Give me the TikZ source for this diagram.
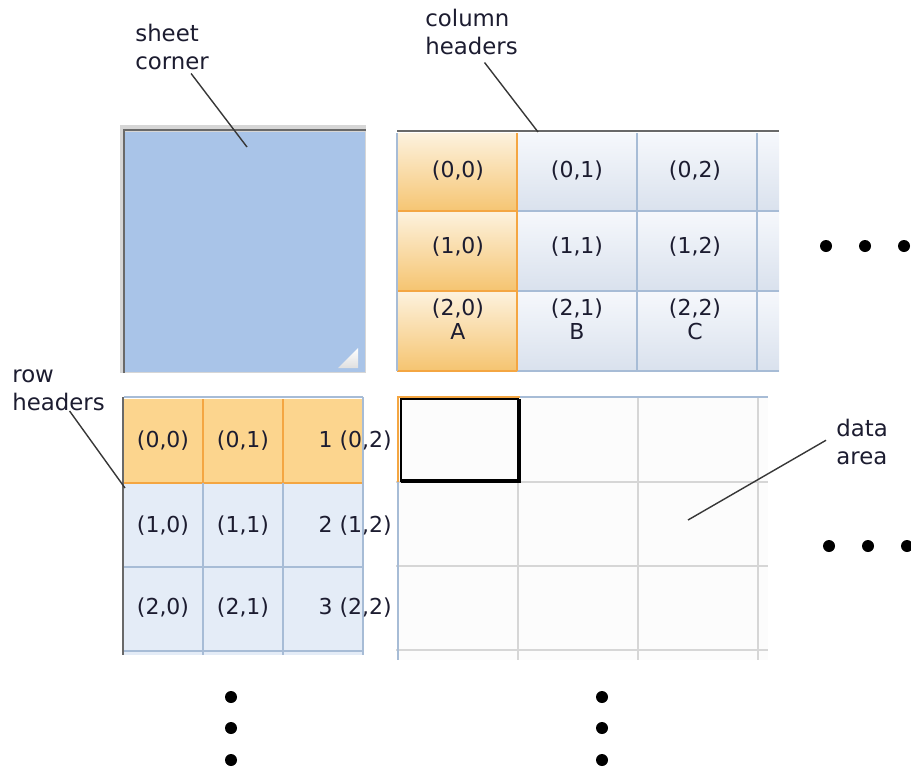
\documentclass[tikz,border=0pt]{standalone}
\usepackage{fontspec}
\setmainfont{DejaVu Sans}
\usetikzlibrary{positioning, calc}
\definecolor{txtcol}{RGB}{28, 28, 48}
\definecolor{leadcol}{RGB}{55, 55, 55}
\definecolor{cornerblue}{RGB}{169, 196, 232}
\definecolor{framegray}{RGB}{105, 105, 105}
\definecolor{shadowgray}{RGB}{214, 214, 214}
\definecolor{orangetop}{RGB}{253, 242, 222}
\definecolor{orangebot}{RGB}{245, 196, 112}
\definecolor{orangeline}{RGB}{244, 166, 66}
\definecolor{orangeflat}{RGB}{252, 213, 142}
\definecolor{bluetop}{RGB}{246, 248, 252}
\definecolor{bluebot}{RGB}{217, 225, 237}
\definecolor{blueflat}{RGB}{228, 236, 247}
\definecolor{blueline}{RGB}{167, 188, 214}
\definecolor{gridgray}{RGB}{214, 214, 214}
\definecolor{datafill}{RGB}{252, 252, 252}

\begin{document}
\begin{tikzpicture}[x=0.02cm, y=-0.02cm,
  lbl/.style={font=\fontsize{13}{16}\selectfont, text=txtcol, align=left, inner sep=0pt, anchor=north west},
  celltxt/.style={font=\fontsize{12.5}{13.6}\selectfont, text=txtcol, align=center, inner sep=0pt},
  leader/.style={draw=leadcol, line width=0.8pt},
  frame/.style={draw=framegray, line width=1.7pt},
  hline/.style={draw=blueline, line width=0.9pt},
  oline/.style={draw=orangeline, line width=0.9pt},
  gline/.style={draw=gridgray, line width=0.9pt},
  dot/.style={circle, fill=black, inner sep=0pt, minimum size=0.24cm}]
\useasboundingbox (0,0) rectangle (911,768);

% sheet corner
\fill[shadowgray] (120,125) rectangle (366,373);
\fill[cornerblue] (125,132) rectangle (365,372);
\draw[frame] (124,373) -- (124,130) -- (366,130);
\shade[top color=white, bottom color=gray!25] (358,348) -- (358,368) -- (338,368) -- cycle;

% column headers
\foreach \y in {133,211,291}{
  \shade[top color=orangetop, bottom color=orangebot] (397,\y) rectangle (517,\y+80);
  \foreach \x/\w in {517/120,637/120,757/22}
    \shade[top color=bluetop, bottom color=bluebot] (\x,\y) rectangle (\x+\w,\y+80);
}
\foreach \y in {211,291,371}{
  \draw[oline] (397,\y) -- (517,\y);
  \draw[hline] (517,\y) -- (779,\y);
}
\draw[hline] (397,133) -- (397,371);
\foreach \x in {637,757}
  \draw[hline] (\x,133) -- (\x,371);
\draw[oline] (517,133) -- (517,371);
\draw[frame] (397,131) -- (779,131);

\foreach \c/\x/\l in {0/458/A,1/577/B,2/695/C}{
  \node[celltxt] (col-0-\c) at (\x,171) {(0,\c)};
  \node[celltxt] (col-1-\c) at (\x,247) {(1,\c)};
  \node[celltxt] (col-2-\c) at (\x,319) {(2,\c)\\\l};
}

% row headers
\fill[orangeflat] (124,399) rectangle (363,483);
\fill[blueflat] (124,483) rectangle (363,655);
\draw[hline] (124,397) -- (363,397);
\draw[oline] (124,483) -- (363,483);
\foreach \y in {567,651}
  \draw[hline] (124,\y) -- (363,\y);
\foreach \x in {203,283}{
  \draw[oline] (\x,399) -- (\x,483);
  \draw[hline] (\x,483) -- (\x,655);
}
\draw[hline] (363,397) -- (363,655);
\draw[frame] (123,397) -- (123,655);

\foreach \r/\y/\n in {0/441/1,1/526/2,2/608/3}{
  \node[celltxt] (row-\r-0) at (163,\y) {(\r,0)};
  \node[celltxt] (row-\r-1) at (243,\y) {(\r,1)};
  \node[celltxt, anchor=east] (row-\r-2) at (392,\y) {\n\ (\r,2)};
}

% data area
\fill[datafill] (398,397) rectangle (768,660);
\foreach \x in {518,638,758}
  \draw[gline] (\x,397) -- (\x,660);
\foreach \y in {482,566,650}
  \draw[gline] (396,\y) -- (768,\y);
\draw[hline] (398,397) -- (398,660);
\draw[hline] (398,397) -- (768,397);
\draw[oline, line width=1.2pt] (398,482) -- (398,397) -- (520,397);
\draw[line width=0.8pt] (401,482) -- (401,399) -- (519,399);
\draw[line width=2pt] (519,399) -- (519,481) -- (401,481);

% labels
\node[lbl] (lblcorner) at (135,24) {sheet\\corner};
\node[lbl] (lblcolhdr) at (425,9) {column\\headers};
\node[lbl] (lblrowhdr) at (12,369) {row\\headers};
\node[lbl] (lbldata) at (836,419) {data\\area};

\coordinate (cornerpt) at (247,147);
\coordinate (colhdrpt) at (538,132);
\coordinate (rowhdrpt) at (125,488);
\coordinate (datapt) at (688,520);

\draw[leader] ($(lblcorner.south)+(19,3)$) -- (cornerpt);
\draw[leader] ($(lblcolhdr.south)+(13,7)$) -- (colhdrpt);
\draw[leader] ($(lblrowhdr.south)+(11,0)$) -- (rowhdrpt);
\draw[leader] ($(lbldata.west)+(-10,-2)$) -- (datapt);

% more cells
\foreach \x in {826,865,904}
  \node[dot] (dotc-\x) at (\x,246) {};
\foreach \x in {829,868,907}
  \node[dot] (dotd-\x) at (\x,546) {};
\foreach \y in {697,728,760}{
  \node[dot] (dotr-\y) at (231,\y) {};
  \node[dot] (dotb-\y) at (602,\y) {};
}
\end{tikzpicture}
\end{document}
